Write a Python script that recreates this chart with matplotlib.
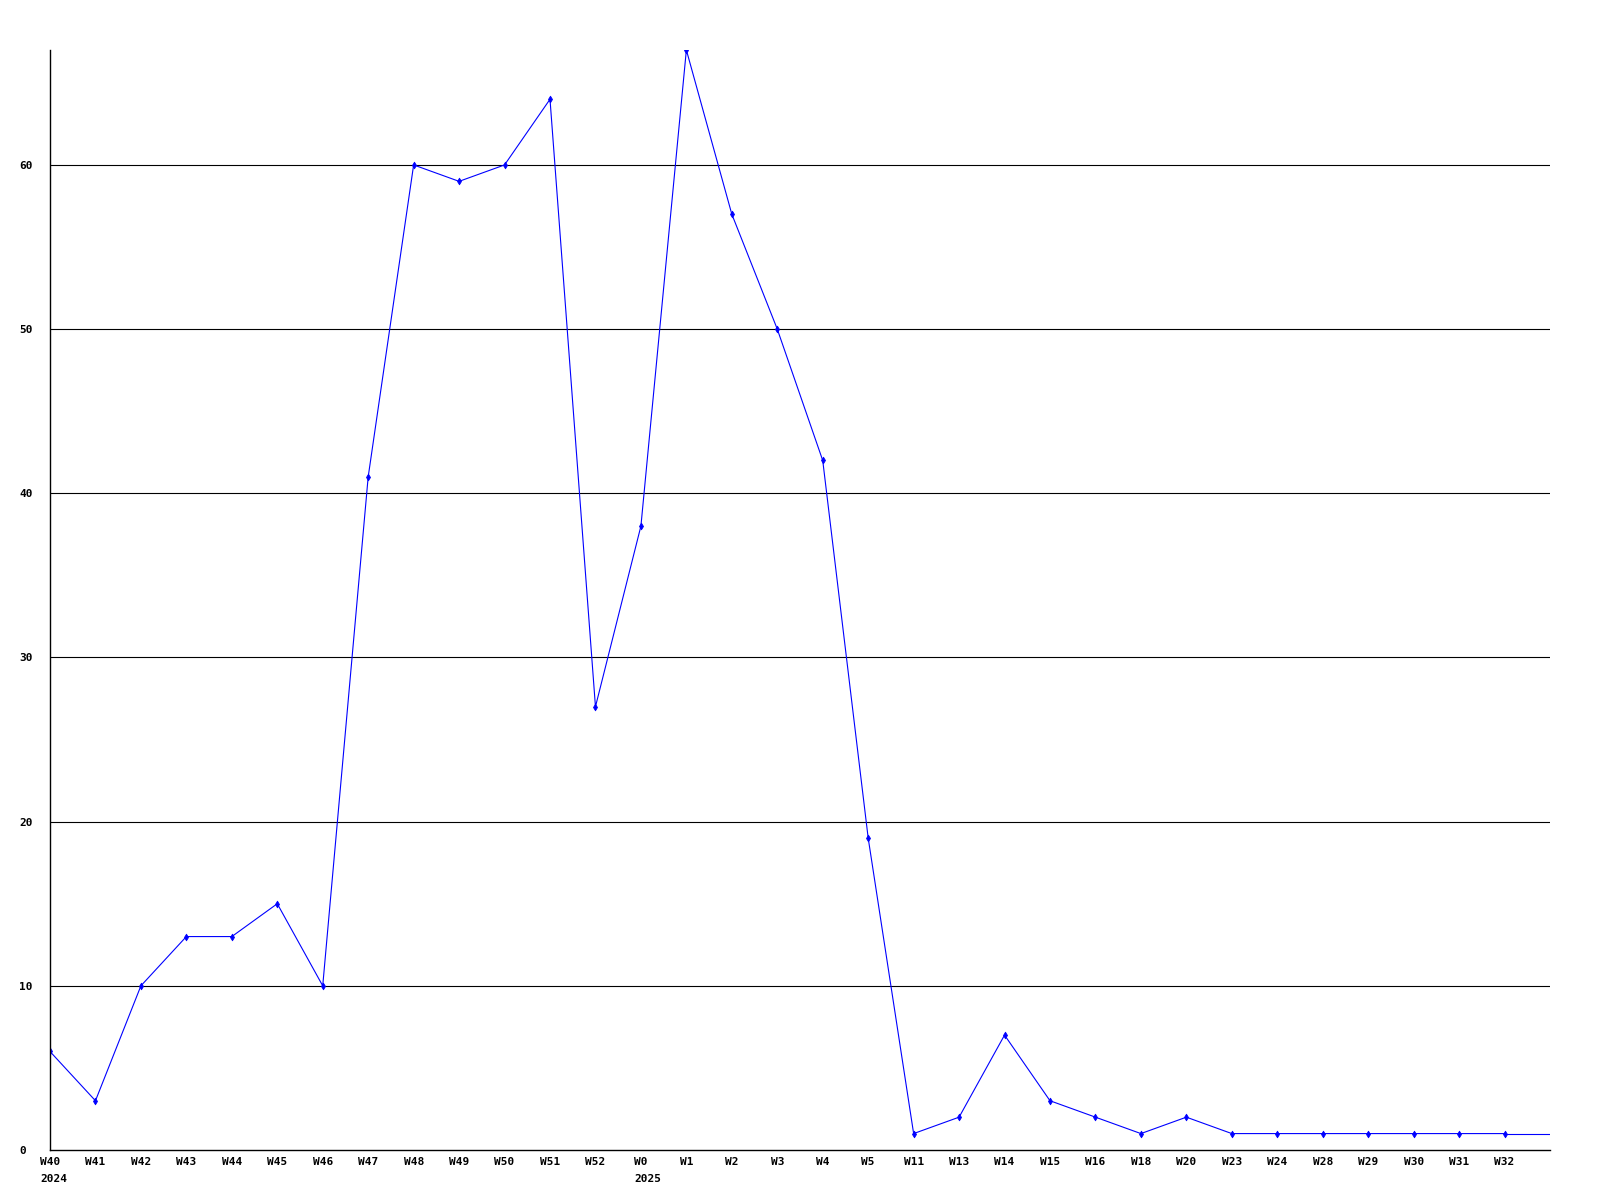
# Weekly counts line chart (JpGraph-like style)

import matplotlib
matplotlib.use("Agg")
import matplotlib.pyplot as plt

weeks = ["W40", "W41", "W42", "W43", "W44", "W45", "W46", "W47", "W48", "W49",
         "W50", "W51", "W52", "W0", "W1", "W2", "W3", "W4", "W5", "W11",
         "W13", "W14", "W15", "W16", "W18", "W20", "W23", "W24", "W28", "W29",
         "W30", "W31", "W32"]
counts = [6, 3, 10, 13, 13, 15, 10, 41, 60, 59,
          60, 64, 27, 38, 67, 57, 50, 42, 19, 1,
          2, 7, 3, 2, 1, 2, 1, 1, 1, 1,
          1, 1, 1]
years = {"W40": "2024", "W0": "2025"}
yticks = [0, 10, 20, 30, 40, 50, 60]

font = "DejaVu Sans Mono"
fs = 8

fig = plt.figure(figsize=(16, 12), dpi=100)
ax = fig.add_axes([50 / 1600, 50 / 1200, 1500 / 1600, 1100 / 1200])

x = list(range(len(weeks)))
ax.plot(x, counts, color="#0000ff", linewidth=0.8, marker="d",
        markersize=3.5, markeredgewidth=0.5)
# line runs on to the right edge at the last value
ax.plot([x[-1], len(weeks)], [counts[-1], counts[-1]], color="#0000ff", linewidth=0.8)

ax.set_xlim(0, len(weeks))
ax.set_ylim(0, max(counts))

for y in yticks[1:]:
    ax.axhline(y, color="black", linewidth=0.8, zorder=0)

ax.spines["top"].set_visible(False)
ax.spines["right"].set_visible(False)
ax.spines["left"].set_linewidth(1)
ax.spines["bottom"].set_linewidth(1)

ax.set_xticks(x)
ax.set_xticklabels(weeks, fontfamily=font, fontweight="bold", fontsize=fs)
ax.set_yticks(yticks)
ax.set_yticklabels([str(v) for v in yticks], fontfamily=font, fontweight="bold",
                   fontsize=fs, ha="left")
ax.tick_params(axis="x", length=0, pad=5)
ax.tick_params(axis="y", length=0, pad=22)

for i, w in enumerate(weeks):
    if w in years:
        ax.annotate(years[w], xy=(i, 0), xycoords="data",
                    xytext=(-0.3 * fs * len(w), -17), textcoords="offset points",
                    ha="left", va="top", fontfamily=font, fontweight="bold",
                    fontsize=fs)

fig.savefig("out.png", dpi=100)
